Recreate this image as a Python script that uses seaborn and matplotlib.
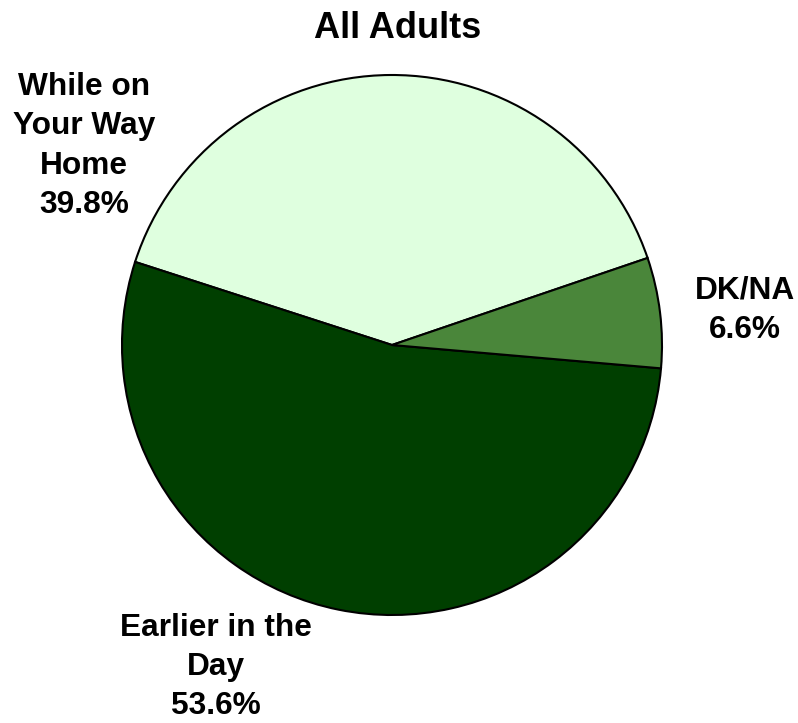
import matplotlib
matplotlib.use("Agg")
import matplotlib.pyplot as plt
import seaborn as sns

# data
categories = ["While on\nYour Way\nHome", "Earlier in the\nDay", "DK/NA"]
shares = [39.8, 53.6, 6.6]
slice_colors = ["#DFFFDF", "#003F00", "#4A863A"]

sns.set_theme(style="white")
plt.rcParams['font.family'] = ['Liberation Sans', 'DejaVu Sans']

fig = plt.figure(figsize=(7.98, 7.23), dpi=100)
# pie centred at (392, 345) px from top, radius ~270 px
ax = fig.add_axes([(392 - 270) / 798, (723 - 345 - 270) / 723, 540 / 798, 540 / 723])

wedges, _ = ax.pie(shares, colors=slice_colors, startangle=18.8, counterclock=True,
                   wedgeprops=dict(edgecolor="black", linewidth=1.5))
ax.set_xlim(-1, 1)
ax.set_ylim(-1, 1)
ax.set_aspect("auto")
ax.axis("off")

# labels (figure coords)
label_pos = [(84, 146), (216, 667), (745, 310)]
for name, val, (px, py) in zip(categories, shares, label_pos):
    fig.text(px / 798, 1 - py / 723, f"{name}\n{val:.1f}%", ha="center", va="center",
             fontsize=22.8, fontweight="bold", linespacing=1.4, color="black")

fig.text(398 / 798, 1 - 28 / 723, "All Adults", ha="center", va="center",
         fontsize=26, fontweight="bold", color="black")

fig.savefig("out.png", dpi=100)
